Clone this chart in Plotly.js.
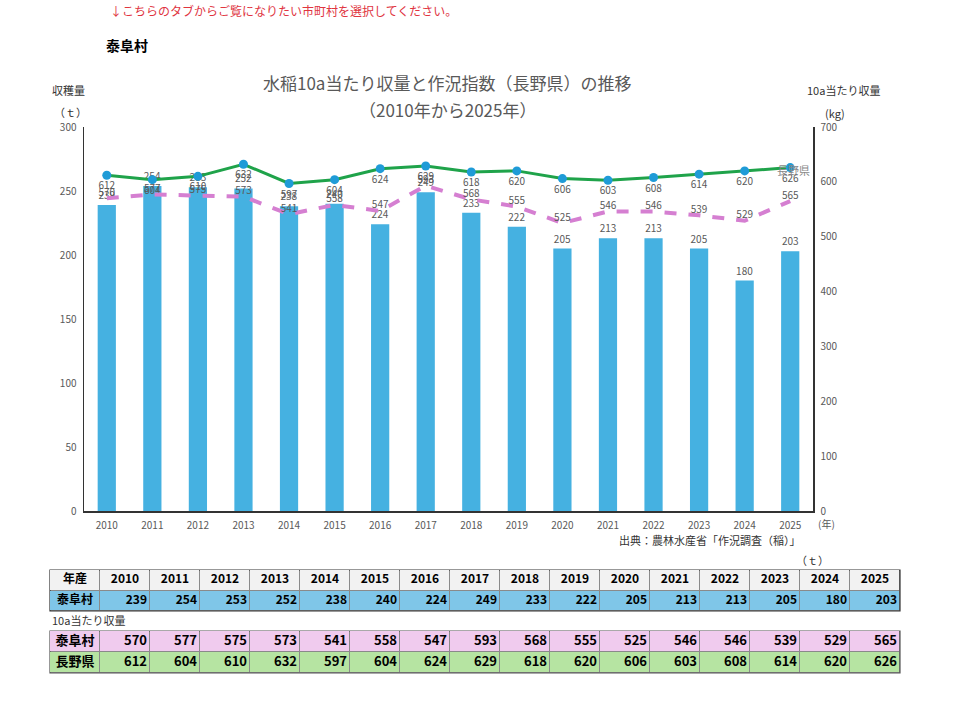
<!DOCTYPE html>
<html>
<head>
<meta charset="utf-8">
<script src="https://cdn.plot.ly/plotly-3.0.1.min.js"></script>
<style>
html,body{margin:0;padding:0;background:#fff;}
#chart{width:960px;height:701px;}
</style>
</head>
<body>
<div id="chart"></div>
<script>
// ---- data ----
const years = ["2010","2011","2012","2013","2014","2015","2016","2017","2018","2019","2020","2021","2022","2023","2024","2025"];
const harvestT = [239,254,253,252,238,240,224,249,233,222,205,213,213,205,180,203];      // 泰阜村 収穫量 (t)
const yieldVillage = [570,577,575,573,541,558,547,593,568,555,525,546,546,539,529,565]; // 泰阜村 10a当たり収量 (kg)
const yieldPref = [612,604,610,632,597,604,624,629,618,620,606,603,608,614,620,626];    // 長野県 10a当たり収量 (kg)
const villageName = "泰阜村";
const prefName = "長野県";
const headLabel = "年産";

const W = 960, H = 701;
const px = x => x / W;
const py = y => 1 - y / H;
const JP = '"Noto Sans CJK JP", "Noto Sans", sans-serif';
const gray = '#595959';

const traces = [
  {
    type: 'bar', x: years, y: harvestT, name: villageName,
    marker: {color: '#45b1e1'},
    text: harvestT.map(String), textposition: 'outside', cliponaxis: false,
    textfont: {size: 10, color: gray, family: JP}
  },
  {
    type: 'scatter', mode: 'lines+markers+text', x: years, y: yieldPref, yaxis: 'y2', name: prefName,
    line: {color: '#1fa34a', width: 3},
    marker: {color: '#1f9bd7', size: 9},
    text: yieldPref.map(String), textposition: 'bottom center', cliponaxis: false,
    textfont: {size: 10, color: gray, family: JP}
  },
  {
    type: 'scatter', mode: 'lines+text', x: years, y: yieldVillage, yaxis: 'y2', name: villageName,
    line: {color: '#d57fd1', width: 4, dash: 'dash'},
    text: yieldVillage.map(String), textposition: 'top center', cliponaxis: false,
    textfont: {size: 10, color: gray, family: JP}
  }
];

// ---- tables drawn as heatmap cells + text on their own axes ----
const nCols = years.length + 1;
const colIdx = Array.from({length: nCols}, (_, i) => i);

function tableTraces(xa, ya, rows, colors) {
  // rows: array from bottom (row 0) to top, each {label, vals, align}
  const z = rows.map((r, ri) => colIdx.map(() => ri));
  const n = rows.length - 1 || 1;
  const scale = [];
  colors.forEach((c, i) => {
    scale.push([i / colors.length, c]);
    scale.push([(i + 1) / colors.length, c]);
  });
  const out = [{
    type: 'heatmap', xaxis: xa, yaxis: ya, x: colIdx, y: rows.map((r, i) => i), z,
    zmin: -0.5, zmax: rows.length - 0.5, colorscale: scale, showscale: false,
    xgap: 1, ygap: 1, hoverinfo: 'skip'
  }];
  rows.forEach((r, ri) => {
    // label column
    out.push({
      type: 'scatter', mode: 'text', xaxis: xa, yaxis: ya, x: [0], y: [ri],
      text: ['<b>' + r.label + '</b>'], textposition: 'middle center',
      textfont: {family: JP, size: r.size, color: '#000'}, hoverinfo: 'skip', cliponaxis: false
    });
    out.push({
      type: 'scatter', mode: 'text', xaxis: xa, yaxis: ya,
      x: r.vals.map((v, i) => r.align === 'right' ? i + 1.44 : i + 1),
      y: r.vals.map(() => ri),
      text: r.vals.map(v => '<b>' + v + '</b>'),
      textposition: r.align === 'right' ? 'middle left' : 'middle center',
      textfont: {family: JP, size: r.size, color: '#000'}, hoverinfo: 'skip', cliponaxis: false
    });
  });
  return out;
}

traces.push(...tableTraces('x3', 'y3', [
  {label: villageName, vals: harvestT, align: 'right', size: 12},
  {label: headLabel, vals: years, align: 'center', size: 12}
], ['#7fc6e8', '#f2f2f2']));
traces.push(...tableTraces('x4', 'y4', [
  {label: prefName, vals: yieldPref, align: 'right', size: 13},
  {label: villageName, vals: yieldVillage, align: 'right', size: 13}
], ['#b6e4a2', '#f0cbee']));

const hiddenAx = (extra) => Object.assign({
  showticklabels: false, showgrid: false, zeroline: false, showline: false, ticks: '', fixedrange: true
}, extra);

const ann = (text, x, y, opts) => Object.assign({
  text, x: px(x), y: py(y), xref: 'paper', yref: 'paper', showarrow: false,
  xanchor: 'center', yanchor: 'middle', font: {family: JP, size: 11, color: gray}
}, opts || {});

const tableBg = (xa, ya, col) => ({
  type: 'rect', xref: xa + ' domain', yref: ya + ' domain', x0: 0, x1: 1, y0: 0, y1: 1,
  fillcolor: '#8a8a8a', line: {color: col, width: 1.2}, layer: 'below'
});

const layout = {
  width: W, height: H,
  margin: {l: 0, r: 0, t: 0, b: 0},
  paper_bgcolor: '#fff', plot_bgcolor: '#fff',
  showlegend: false,
  bargap: 0.6,
  font: {family: JP, color: gray},
  xaxis: {
    domain: [px(84), px(813)], type: 'category', range: [-0.5, 15.5],
    showline: true, linecolor: '#333', linewidth: 1.5, ticks: '', ticklabelstandoff: 4,
    tickfont: {size: 10, color: gray}, showgrid: false, fixedrange: true
  },
  yaxis: {
    domain: [py(511), py(127)], range: [0, 300], dtick: 50,
    showline: true, linecolor: '#333', linewidth: 1.5, showgrid: false, zeroline: false,
    ticks: '', tickfont: {size: 10, color: gray}, ticklabelstandoff: 4
  },
  yaxis2: {
    overlaying: 'y', side: 'right', range: [0, 700], dtick: 100,
    showline: true, linecolor: '#333', linewidth: 1.5, showgrid: false, zeroline: false,
    ticks: '', tickfont: {size: 10, color: gray}, ticklabelstandoff: 4
  },
  xaxis3: hiddenAx({domain: [px(50), px(900)], range: [-0.5, nCols - 0.5], anchor: 'y3'}),
  yaxis3: hiddenAx({domain: [py(611), py(570)], range: [-0.5, 1.5], anchor: 'x3'}),
  xaxis4: hiddenAx({domain: [px(50), px(900)], range: [-0.5, nCols - 0.5], anchor: 'y4'}),
  yaxis4: hiddenAx({domain: [py(673), py(631)], range: [-0.5, 1.5], anchor: 'x4'}),
  shapes: [tableBg('x3', 'y3', '#333'), tableBg('x4', 'y4', '#555')],
  annotations: [
    ann('↓こちらのタブからご覧になりたい市町村を選択してください。', 108, 11, {xanchor: 'left', font: {family: JP, size: 12, color: '#e0353f'}}),
    ann('<b>' + villageName + '</b>', 104, 45, {xanchor: 'left', font: {family: JP, size: 14, color: '#000'}}),
    ann('水稲10a当たり収量と作況指数（長野県）の推移', 447, 82, {font: {family: JP, size: 17, color: gray}}),
    ann('（2010年から2025年）', 447, 109, {font: {family: JP, size: 17, color: gray}}),
    ann('収穫量', 68, 90, {font: {family: JP, size: 11, color: '#333'}}),
    ann('（ｔ）', 70, 112, {font: {family: JP, size: 11, color: '#333'}}),
    ann('10a当たり収量', 843, 90, {font: {family: JP, size: 11, color: '#333'}}),
    ann('(kg)', 835, 113, {font: {family: JP, size: 11, color: '#333'}}),
    ann('(年)', 826, 523, {font: {family: JP, size: 10, color: gray}}),
    ann('出典：農林水産省「作況調査（稲）」', 803, 540, {xanchor: 'right', font: {family: JP, size: 11, color: '#333'}}),
    ann('（ｔ）', 812, 560, {font: {family: JP, size: 11, color: '#333'}}),
    ann('10a当たり収量', 50, 620, {xanchor: 'left', font: {family: JP, size: 11, color: '#333'}}),
    ann(prefName, 793, 170, {font: {family: JP, size: 11, color: '#888'}})
  ]
};

Plotly.newPlot('chart', traces, layout, {displayModeBar: false, staticPlot: true});
</script>
</body>
</html>
